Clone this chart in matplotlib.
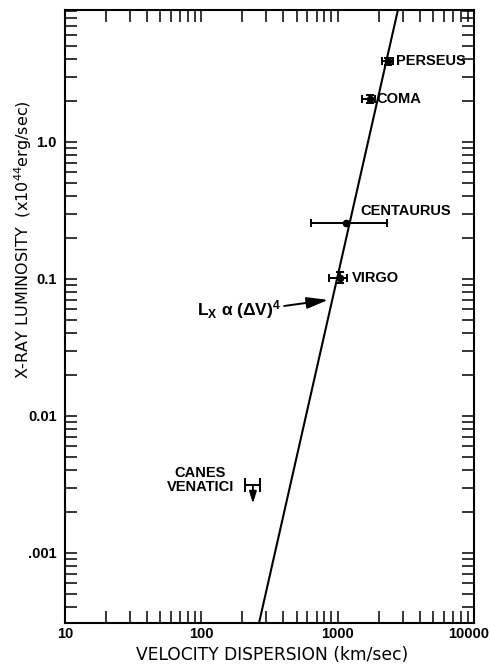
import matplotlib
matplotlib.use("Agg")
import matplotlib.pyplot as plt
from matplotlib.ticker import FixedLocator, FixedFormatter, LogLocator, NullFormatter

plt.rcParams['font.family'] = ['Liberation Sans', 'DejaVu Sans']
plt.rcParams['mathtext.default'] = 'regular'

# ---- data ----
clusters = ["PERSEUS", "COMA", "CENTAURUS", "VIRGO"]
velocity = [2344, 1730, 1153, 1042]
v_low = [2118, 1511, 638, 865]
v_high = [2547, 1880, 2300, 1172]
lum = [3.90, 2.06, 0.256, 0.1017]
lum_low = [3.65, 1.93, 0.256, 0.0935]
lum_high = [4.10, 2.20, 0.256, 0.1125]

cv_name = "CANES\nVENATICI"
cv_velocity = [239]
cv_v_low = [209]
cv_v_high = [270]
cv_lum_limit = [0.00313]
cv_arrow_end = [0.00230]

fit_velocity = [265, 2774]
fit_lum = [0.000308, 9.3]

x_ticks = [10, 100, 1000, 10000]
x_ticklabels = ["10", "100", "1000", ""]
x_last_label = "10000"
y_ticks = [0.001, 0.01, 0.1, 1.0]
y_ticklabels = [".001", "0.01", "0.1", "1.0"]

# ---- figure ----
W, H = 491, 665
fig = plt.figure(figsize=(W / 100, H / 100), dpi=100)
ax = fig.add_axes([65 / W, 42 / H, 409 / W, 613 / H])
ax.set_xscale('log')
ax.set_yscale('log')
ax.set_xlim(10, 10000)
ax.set_ylim(0.000308, 9.19)

for s in ax.spines.values():
    s.set_linewidth(1.5)

ax.xaxis.set_major_locator(FixedLocator(x_ticks))
ax.xaxis.set_major_formatter(FixedFormatter(x_ticklabels))
ax.yaxis.set_major_locator(FixedLocator(y_ticks))
ax.yaxis.set_major_formatter(FixedFormatter(y_ticklabels))
ax.xaxis.set_minor_locator(LogLocator(base=10, subs=range(2, 10), numticks=20))
ax.yaxis.set_minor_locator(LogLocator(base=10, subs=range(2, 10), numticks=20))
ax.xaxis.set_minor_formatter(NullFormatter())
ax.yaxis.set_minor_formatter(NullFormatter())
ax.tick_params(which='both', direction='in', length=8.5, width=1.1,
               top=True, right=True, color='k')
ax.tick_params(axis='x', which='major', labelsize=10.5, pad=3)
ax.tick_params(axis='y', which='major', labelsize=10.5, pad=6)
for lab in ax.get_xticklabels() + ax.get_yticklabels():
    lab.set_fontweight('bold')
ax.annotate(x_last_label, xy=(x_ticks[-1], 0), xycoords=('data', 'axes fraction'),
            xytext=(-4, -3), textcoords='offset points', ha='center', va='top',
            fontsize=10.5, fontweight='bold', annotation_clip=False)

# fit line
ax.plot(fit_velocity, fit_lum, color='k', lw=1.5, zorder=2)

# clusters with error bars
xerr = [[v - lo for v, lo in zip(velocity, v_low)],
        [hi - v for v, hi in zip(velocity, v_high)]]
yerr = [[l - lo for l, lo in zip(lum, lum_low)],
        [hi - l for l, hi in zip(lum, lum_high)]]
ax.errorbar(velocity, lum, xerr=xerr, yerr=yerr, fmt='o', ms=4.5,
            color='k', ecolor='k', elinewidth=1.4, capsize=3, capthick=1.4, zorder=3)

offsets = {"PERSEUS": (6, 0), "COMA": (4.5, 0), "CENTAURUS": (10, 9), "VIRGO": (8.5, 0)}
for name, v, l in zip(clusters, velocity, lum):
    dx, dy = offsets[name]
    ax.annotate(name, xy=(v, l), xytext=(dx, dy), textcoords='offset points',
                ha='left', va='center', fontsize=10.5, fontweight='bold')

# Canes Venatici upper limit
ax.errorbar(cv_velocity, cv_lum_limit,
            xerr=[[cv_velocity[0] - cv_v_low[0]], [cv_v_high[0] - cv_velocity[0]]],
            fmt='none', ecolor='k', elinewidth=1.4, capsize=5, capthick=1.4)
ax.annotate("", xy=(cv_velocity[0], cv_arrow_end[0]),
            xytext=(cv_velocity[0], cv_lum_limit[0]),
            arrowprops=dict(arrowstyle='-|>,head_length=0.7,head_width=0.22',
                            lw=1.3, color='k', shrinkA=0, shrinkB=0))
ax.annotate(cv_name, xy=(cv_velocity[0], cv_lum_limit[0]), xytext=(-38, 3.8),
            textcoords='offset points', ha='center', va='center',
            multialignment='center', linespacing=1.0, fontsize=10.5, fontweight='bold')

# law annotation
ax.text(385, 0.0546, r"L$_{X}$ α (ΔV)$^{4}$", ha='right', va='baseline',
        fontsize=12.5, fontweight='bold')
ax.annotate("", xy=(851, 0.0703), xytext=(405, 0.0635),
            arrowprops=dict(arrowstyle='-|>,head_length=1.3,head_width=0.35',
                            lw=1.4, color='k', shrinkA=0, shrinkB=0))

# axis labels
fig.text(272 / W, 1 - 655 / H, "VELOCITY DISPERSION (km/sec)", ha='center', va='center',
         fontsize=12.3, family='DejaVu Sans')
fig.text(23 / W, 1 - 240 / H, r"X-RAY LUMINOSITY  (x10$^{44}$erg/sec)", ha='center',
         va='center', rotation=90, fontsize=11.5, family='DejaVu Sans')

fig.savefig("out.png", dpi=100)
